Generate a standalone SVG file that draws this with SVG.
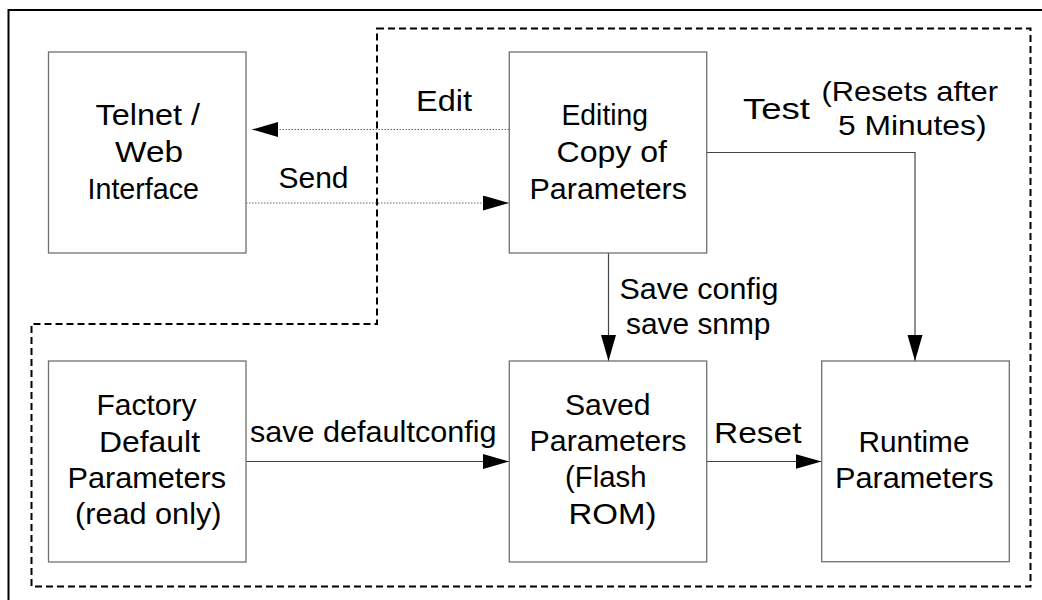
<svg xmlns="http://www.w3.org/2000/svg" width="1042" height="600" viewBox="0 0 1042 600">
<style>
.box{fill:#fff;stroke:#707070;stroke-width:1.3}
.t{font-family:"Liberation Sans",Arial,sans-serif;font-size:30px;fill:#000}
.s{font-size:28px}
.dot{fill:none;stroke:#666;stroke-width:1;stroke-dasharray:1.5 1.5}
.ln{fill:none;stroke:#444;stroke-width:1.2}
</style>
<defs>
<marker id="ah" markerUnits="userSpaceOnUse" markerWidth="26" markerHeight="16" refX="26" refY="7.5" orient="auto">
<path d="M0,0 L26,7.5 L0,15 z" fill="#000"/>
</marker>
</defs>
<rect x="0" y="0" width="1042" height="600" fill="#fff"/>
<rect x="8.5" y="10" width="1100" height="700" fill="none" stroke="#000" stroke-width="2"/>
<path d="M377,28.5 H1030.5 V586.5 H31.5 V324 H377 Z" fill="none" stroke="#000" stroke-width="2" stroke-dasharray="7 4"/>
<g id="connectors">
<line class="dot" x1="509" y1="129.5" x2="252" y2="129.5" marker-end="url(#ah)"/>
<line class="dot" x1="246" y1="203" x2="509" y2="203" marker-end="url(#ah)"/>
<path class="ln" d="M706.5,152.5 H915 V361" marker-end="url(#ah)"/>
<line class="ln" x1="608.5" y1="253" x2="608.5" y2="361" marker-end="url(#ah)"/>
<line class="ln" x1="246" y1="461.5" x2="509" y2="461.5" marker-end="url(#ah)"/>
<line class="ln" x1="706.5" y1="461.5" x2="821.5" y2="461.5" marker-end="url(#ah)"/>
<text class="t" x="416" y="111" textLength="56" lengthAdjust="spacingAndGlyphs">Edit</text>
<text class="t" x="278.5" y="187.5" textLength="70" lengthAdjust="spacingAndGlyphs">Send</text>
<text class="t" x="743" y="119" textLength="67" lengthAdjust="spacingAndGlyphs">Test</text>
<text class="t s" x="821.5" y="101" textLength="176.5" lengthAdjust="spacingAndGlyphs">(Resets after</text>
<text class="t s" x="838" y="135" textLength="148.5" lengthAdjust="spacingAndGlyphs">5 Minutes)</text>
<text class="t" x="619.5" y="298.5" textLength="159" lengthAdjust="spacingAndGlyphs">Save config</text>
<text class="t" x="626" y="333.5" textLength="144.5" lengthAdjust="spacingAndGlyphs">save snmp</text>
<text class="t" x="250" y="441.5" textLength="246.5" lengthAdjust="spacingAndGlyphs">save defaultconfig</text>
<text class="t" x="714" y="442.5" textLength="87.5" lengthAdjust="spacingAndGlyphs">Reset</text>
</g>
<g id="telnet">
<rect class="box" x="48.5" y="52" width="197.5" height="201"/>
<text class="t" x="95.5" y="125" textLength="104.5" lengthAdjust="spacingAndGlyphs">Telnet /</text>
<text class="t" x="115" y="161.5" textLength="68" lengthAdjust="spacingAndGlyphs">Web</text>
<text class="t" x="87.5" y="198.5" textLength="111.5" lengthAdjust="spacingAndGlyphs">Interface</text>
</g>
<g id="editing">
<rect class="box" x="509.3" y="52" width="197.4" height="201"/>
<text class="t" x="561.5" y="125" textLength="86.5" lengthAdjust="spacingAndGlyphs">Editing</text>
<text class="t" x="556.5" y="161.5" textLength="110.5" lengthAdjust="spacingAndGlyphs">Copy of</text>
<text class="t" x="529.5" y="198.5" textLength="157.5" lengthAdjust="spacingAndGlyphs">Parameters</text>
</g>
<g id="factory">
<rect class="box" x="48.5" y="361" width="197.5" height="201"/>
<text class="t" x="96.5" y="415" textLength="100" lengthAdjust="spacingAndGlyphs">Factory</text>
<text class="t" x="99" y="451.5" textLength="101" lengthAdjust="spacingAndGlyphs">Default</text>
<text class="t" x="67.5" y="488" textLength="158.5" lengthAdjust="spacingAndGlyphs">Parameters</text>
<text class="t" x="75" y="524" textLength="146.5" lengthAdjust="spacingAndGlyphs">(read only)</text>
</g>
<g id="saved">
<rect class="box" x="509.3" y="361" width="197.4" height="201"/>
<text class="t" x="565" y="414.5" textLength="85.5" lengthAdjust="spacingAndGlyphs">Saved</text>
<text class="t" x="529.5" y="450.5" textLength="157" lengthAdjust="spacingAndGlyphs">Parameters</text>
<text class="t" x="565" y="487" textLength="81.5" lengthAdjust="spacingAndGlyphs">(Flash</text>
<text class="t" x="568.5" y="523.5" textLength="88" lengthAdjust="spacingAndGlyphs">ROM)</text>
</g>
<g id="runtime">
<rect class="box" x="821.7" y="361" width="187.6" height="200.7"/>
<text class="t" x="858.5" y="451.5" textLength="111" lengthAdjust="spacingAndGlyphs">Runtime</text>
<text class="t" x="835" y="487.5" textLength="158.5" lengthAdjust="spacingAndGlyphs">Parameters</text>
</g>
</svg>
